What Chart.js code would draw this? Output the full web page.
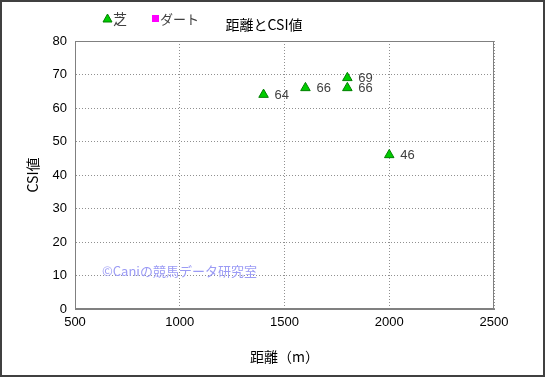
<!DOCTYPE html>
<html lang="ja">
<head>
<meta charset="UTF-8">
<title>距離とCSI値</title>
<script src="https://cdn.jsdelivr.net/npm/chart.js"></script>
<style>
    html, body { margin: 0; padding: 0; background: #fff; }
    #wrap { width: 545px; height: 377px; position: relative; }
</style>
</head>
<body>
<div id="wrap"><canvas id="chart"></canvas></div>
<script>
    // data
    const seriesNames = ['芝', 'ダート'];
    const turfDistance = [1400, 1600, 1800, 1800, 2000];
    const turfCsi = [64, 66, 69, 66, 46];
    const dirtDistance = [];
    const dirtCsi = [];
    const xTicks = [500, 1000, 1500, 2000, 2500];
    const yTicks = [0, 10, 20, 30, 40, 50, 60, 70, 80];

    const FONT = '"Noto Sans CJK JP", "Liberation Sans", sans-serif';
    const NUM_FONT = '"Liberation Sans", "Noto Sans CJK JP", sans-serif';

    function toPoints(xs, ys) {
        return xs.map((x, i) => ({ x: x, y: ys[i] }));
    }

    // legend, title, value labels, watermark and frame
    const decor = {
        id: 'decor',
        afterDatasetsDraw(chart) {
            const ctx = chart.ctx;
            const area = chart.chartArea;
            ctx.save();

            // value labels next to points
            ctx.font = '13px ' + NUM_FONT;
            ctx.fillStyle = '#404040';
            ctx.textBaseline = 'middle';
            ctx.textAlign = 'left';
            chart.getDatasetMeta(0).data.forEach((pt, i) => {
                ctx.fillText(String(turfCsi[i]), pt.x + 11, pt.y + 1);
            });

            // watermark
            ctx.font = '13px ' + FONT;
            ctx.fillStyle = '#9b9bf5';
            ctx.fillText('©Caniの競馬データ研究室', area.left + 27, area.bottom - 38);

            // legend
            ctx.fillStyle = '#00cc00';
            ctx.strokeStyle = '#008000';
            ctx.lineWidth = 1;
            ctx.beginPath();
            ctx.moveTo(107.5, 14);
            ctx.lineTo(112, 22);
            ctx.lineTo(103, 22);
            ctx.closePath();
            ctx.fill();
            ctx.stroke();
            ctx.fillStyle = '#ff00ff';
            ctx.fillRect(152, 15, 7, 7);
            ctx.fillStyle = '#404040';
            ctx.font = '14px ' + FONT;
            ctx.fillText(seriesNames[0], 113, 19);
            ctx.font = '13px ' + FONT;
            ctx.fillText(seriesNames[1], 160, 19);

            // title
            ctx.fillStyle = '#000';
            ctx.font = '14px ' + FONT;
            ctx.textAlign = 'center';
            ctx.fillText('距離とCSI値', 264, 25);

            // outer frame
            ctx.strokeStyle = '#404040';
            ctx.lineWidth = 2;
            ctx.strokeRect(1, 1, chart.width - 2, chart.height - 2);
            ctx.restore();
        }
    };

    new Chart(document.getElementById('chart'), {
        type: 'scatter',
        data: {
            datasets: [{
                label: seriesNames[0],
                data: toPoints(turfDistance, turfCsi),
                pointStyle: 'triangle',
                pointRadius: 5.5,
                pointHoverRadius: 5.5,
                backgroundColor: '#00cc00',
                borderColor: '#008000',
                borderWidth: 1
            }, {
                label: seriesNames[1],
                data: toPoints(dirtDistance, dirtCsi),
                pointStyle: 'rect',
                pointRadius: 4,
                backgroundColor: '#ff00ff',
                borderColor: '#ff00ff'
            }]
        },
        options: {
            responsive: true,
            maintainAspectRatio: false,
            animation: false,
            layout: { padding: { left: 20, right: 51, top: 41, bottom: 8 } },
            plugins: {
                legend: { display: false },
                title: { display: false },
                tooltip: { enabled: false }
            },
            scales: {
                x: {
                    type: 'linear',
                    min: xTicks[0],
                    max: xTicks[xTicks.length - 1],
                    afterBuildTicks: (axis) => { axis.ticks = xTicks.map(v => ({ value: v })); },
                    afterFit: (axis) => { axis.height = 60; },
                    border: { display: true, color: '#808080', width: 1, dash: [1, 2] },
                    grid: { color: '#909090', drawTicks: false },
                    ticks: {
                        color: '#000', font: { size: 13, family: NUM_FONT }, padding: 6, maxRotation: 0,
                        callback: (v) => String(v)
                    },
                    title: { display: true, text: '距離（m）', color: '#000', font: { size: 14, family: FONT }, padding: { top: 3 } }
                },
                y: {
                    type: 'linear',
                    min: yTicks[0],
                    max: yTicks[yTicks.length - 1],
                    afterBuildTicks: (axis) => { axis.ticks = yTicks.map(v => ({ value: v })); },
                    afterFit: (axis) => { axis.width = 55; },
                    border: { display: true, color: '#808080', width: 1, dash: [1, 2] },
                    grid: { color: '#909090', drawTicks: false },
                    ticks: { color: '#000', font: { size: 13, family: NUM_FONT }, padding: 8 },
                    title: { display: true, text: 'CSI値', color: '#000', font: { size: 14, family: FONT }, padding: { bottom: 4 } }
                }
            }
        },
        plugins: [decor, {
            id: 'areaBorder',
            beforeDatasetsDraw(chart) {
                const a = chart.chartArea;
                const ctx = chart.ctx;
                ctx.save();
                ctx.strokeStyle = '#808080';
                ctx.lineWidth = 1;
                ctx.strokeRect(a.left + 0.5, a.top + 0.5, a.right - a.left - 1, a.bottom - a.top - 1);
                ctx.restore();
            }
        }]
    });
</script>
</body>
</html>
